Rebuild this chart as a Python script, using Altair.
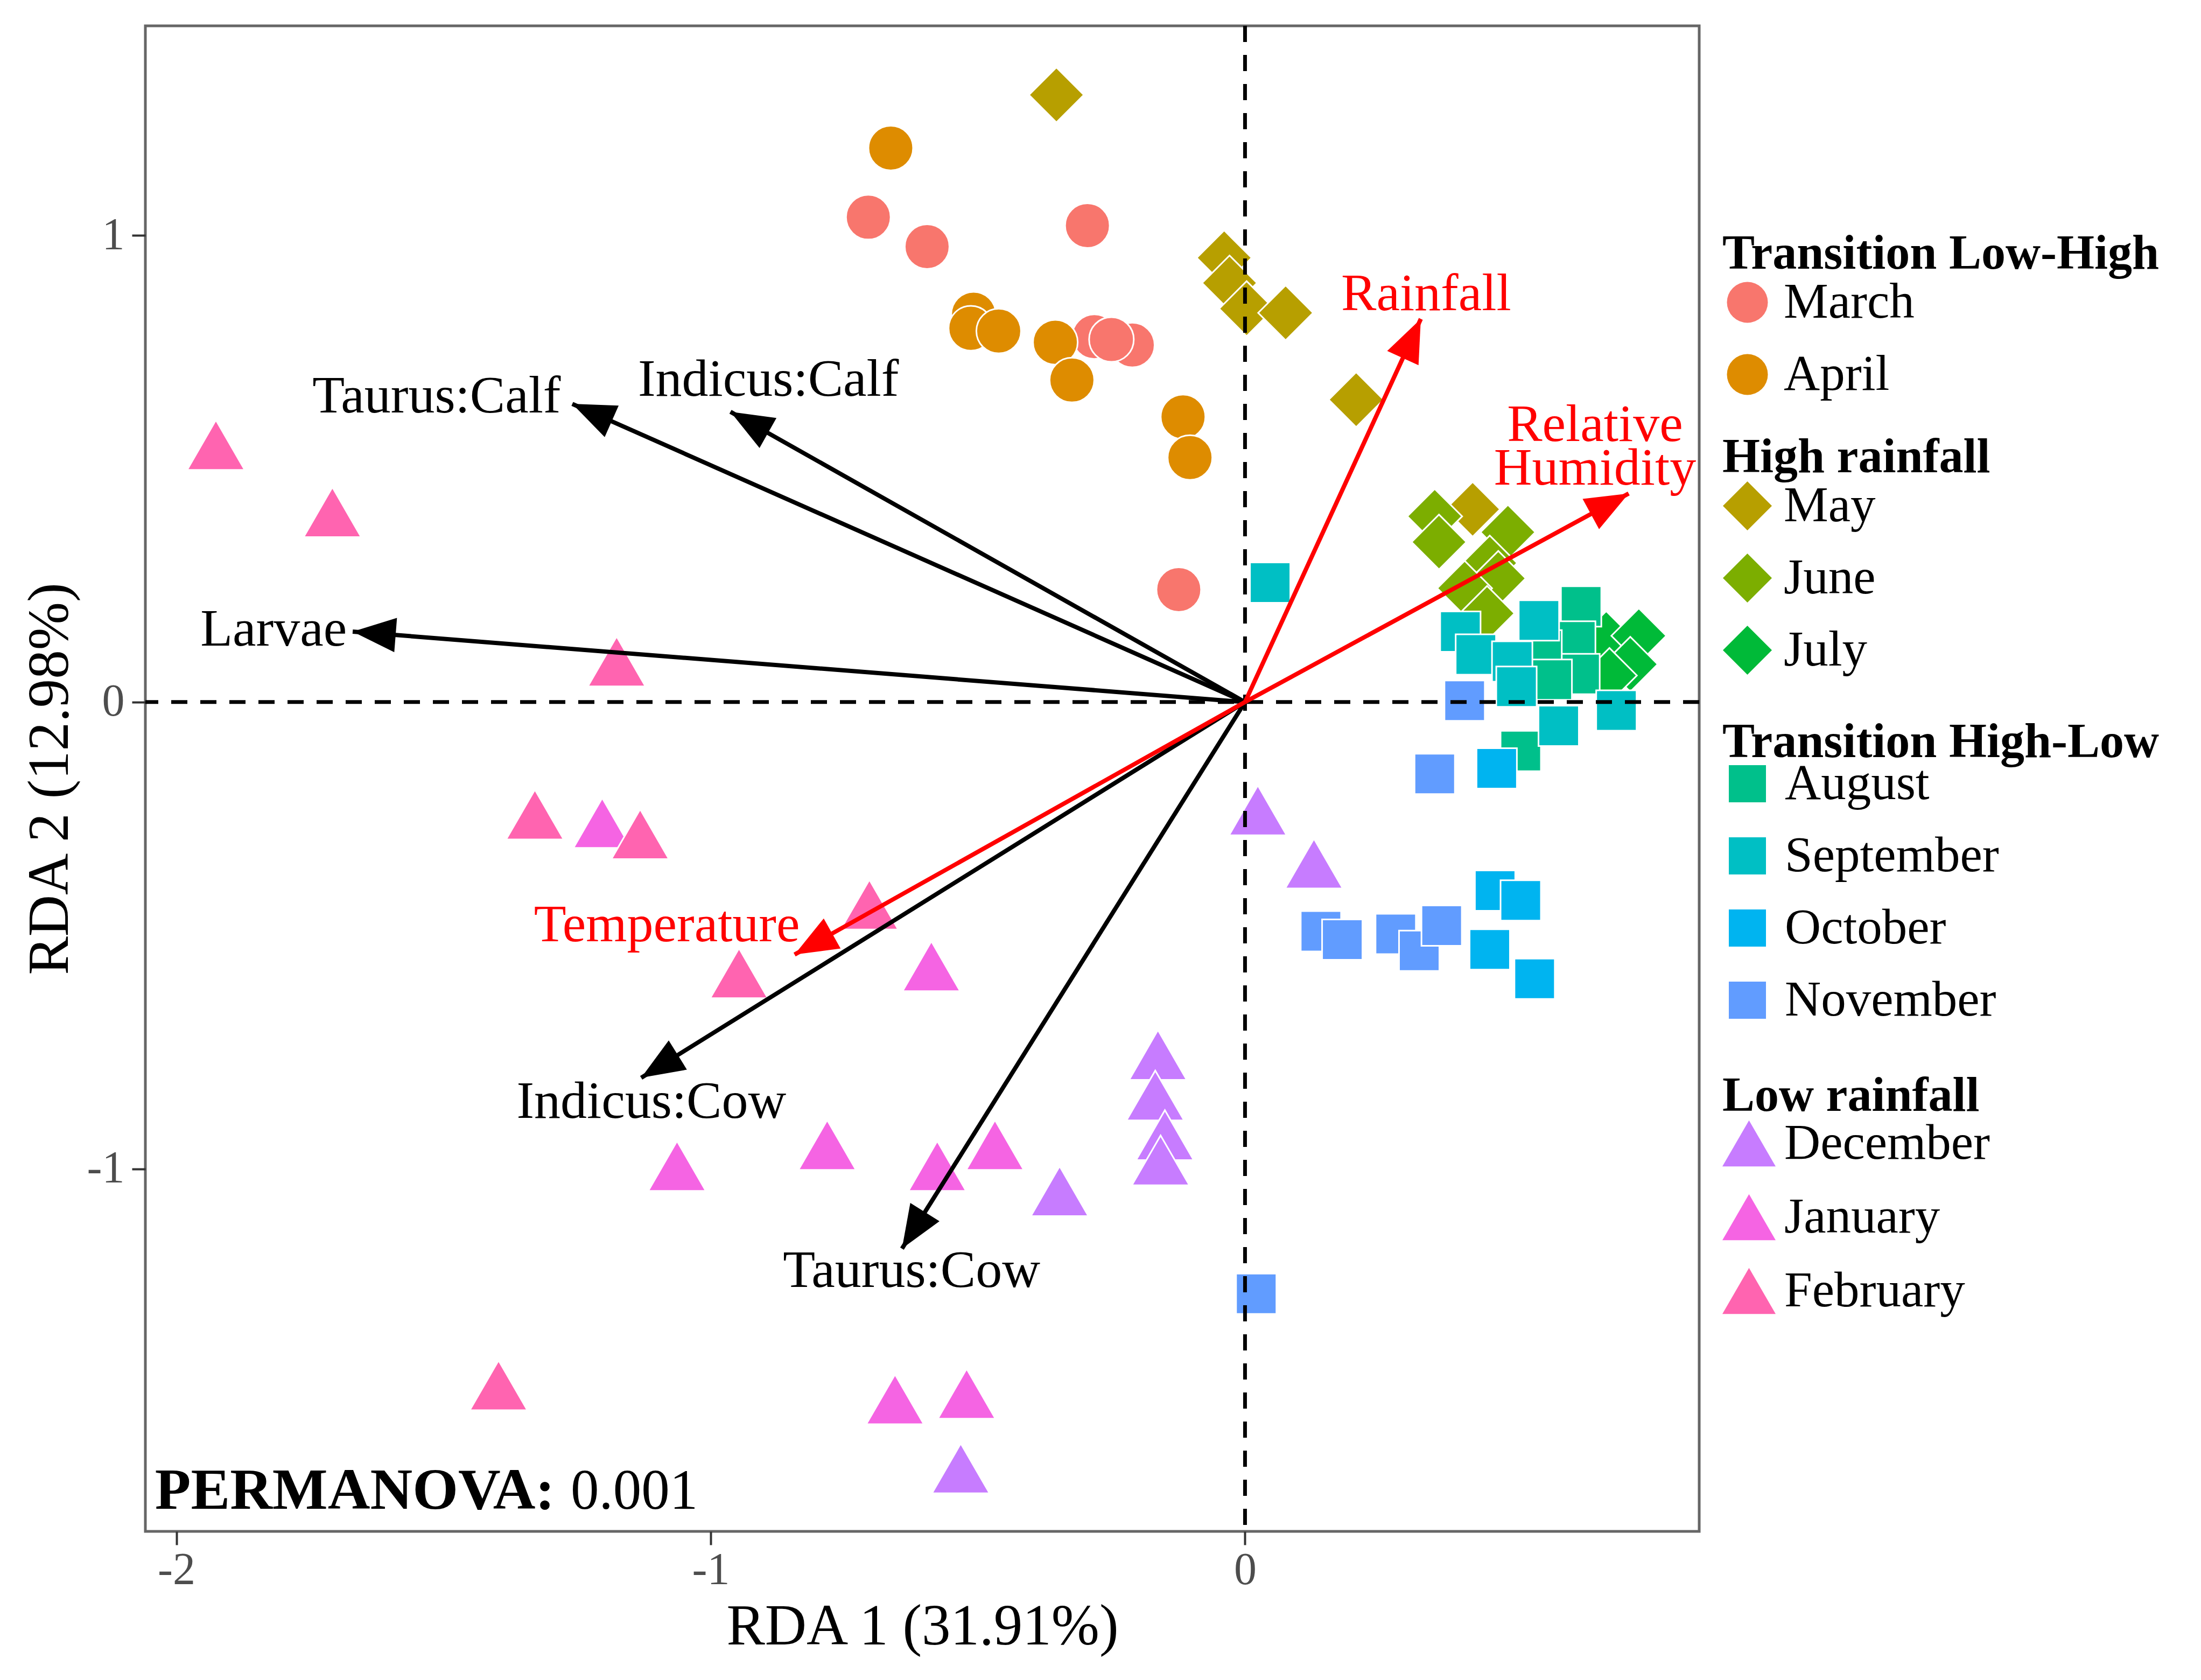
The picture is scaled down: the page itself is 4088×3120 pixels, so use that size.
import math
import altair as alt
import pandas as pd

# ---------------- data ----------------
MONTHS = ["March", "April", "May", "June", "July", "August", "September",
          "October", "November", "December", "January", "February"]
COLORS = ["#F8766D", "#DE8C00", "#B79F00", "#7CAE00", "#00BA38", "#00C08B",
          "#00BFC4", "#00B4F0", "#619CFF", "#C77CFF", "#F564E3", "#FF64B0"]

march_rda1 = [-0.705, -0.595, -0.295, -0.124, -0.282, -0.211, -0.250]
march_rda2 = [1.039, 0.976, 1.021, 0.241, 0.783, 0.765, 0.777]
april_rda1 = [-0.663, -0.508, -0.513, -0.461, -0.355, -0.324, -0.116, -0.103]
april_rda2 = [1.187, 0.831, 0.801, 0.795, 0.771, 0.690, 0.611, 0.524]
may_rda1 = [-0.353, -0.039, -0.029, 0.003, 0.076, 0.208, 0.426]
may_rda2 = [1.301, 0.952, 0.898, 0.843, 0.834, 0.648, 0.413]
june_rda1 = [0.355, 0.363, 0.492, 0.458, 0.474, 0.411, 0.453]
june_rda2 = [0.398, 0.343, 0.364, 0.298, 0.265, 0.244, 0.190]
july_rda1 = [0.676, 0.737, 0.721, 0.682]
july_rda2 = [0.136, 0.142, 0.081, 0.057]
august_rda1 = [0.629, 0.618, 0.626, 0.555, 0.574, 0.516]
august_rda2 = [0.205, 0.130, 0.060, 0.111, 0.048, -0.105]
september_rda1 = [0.047, 0.403, 0.432, 0.550, 0.500, 0.508, 0.587, 0.695]
september_rda2 = [0.256, 0.151, 0.102, 0.175, 0.087, 0.033, -0.051, -0.018]
october_rda1 = [0.471, 0.468, 0.516, 0.458, 0.542]
october_rda2 = [-0.142, -0.404, -0.425, -0.530, -0.593]
november_rda1 = [0.411, 0.355, 0.142, 0.182, 0.282, 0.326, 0.368, 0.021]
november_rda2 = [0.003, -0.154, -0.491, -0.509, -0.497, -0.533, -0.479, -1.268]
december_rda1 = [0.024, 0.129, -0.163, -0.168, -0.150, -0.158, -0.347, -0.532]
december_rda2 = [-0.232, -0.346, -0.756, -0.843, -0.928, -0.982, -1.048, -1.642]
january_rda1 = [-1.203, -0.587, -1.063, -0.782, -0.576, -0.468, -0.655, -0.521]
january_rda2 = [-0.259, -0.566, -0.994, -0.949, -0.994, -0.949, -1.494, -1.482]
february_rda1 = [-1.926, -1.708, -1.176, -1.329, -1.132, -0.703, -0.947, -1.397]
february_rda2 = [0.551, 0.407, 0.087, -0.241, -0.283, -0.434, -0.581, -1.464]

MONTH_DATA = {
    "March": (march_rda1, march_rda2), "April": (april_rda1, april_rda2),
    "May": (may_rda1, may_rda2), "June": (june_rda1, june_rda2),
    "July": (july_rda1, july_rda2), "August": (august_rda1, august_rda2),
    "September": (september_rda1, september_rda2),
    "October": (october_rda1, october_rda2),
    "November": (november_rda1, november_rda2),
    "December": (december_rda1, december_rda2),
    "January": (january_rda1, january_rda2),
    "February": (february_rda1, february_rda2),
}

GROUP_TITLES = ["Transition Low-High", "High rainfall", "Transition High-Low", "Low rainfall"]
GROUP_MONTHS = [["March", "April"], ["May", "June", "July"],
                ["August", "September", "October", "November"],
                ["December", "January", "February"]]
GROUP_SHAPES = ["circle", "diamond", "square", "triangle-up"]

species_names = ["Taurus:Calf", "Indicus:Calf", "Larvae", "Indicus:Cow", "Taurus:Cow"]
species_rda1 = [-1.259, -0.963, -1.670, -1.130, -0.642]
species_rda2 = [0.639, 0.622, 0.151, -0.805, -1.171]
species_label_rda1 = [-1.513, -0.892, -1.818, -1.111, -0.624]
species_label_rda2 = [0.654, 0.690, 0.154, -0.858, -1.220]

env_names = ["Rainfall", "Relative Humidity", "Temperature"]
env_rda1 = [0.329, 0.718, -0.843]
env_rda2 = [0.821, 0.447, -0.541]
env_label_text = ["Rainfall", "Relative", "Humidity", "Temperature"]
env_label_rda1 = [0.339, 0.655, 0.655, -1.082]
env_label_rda2 = [0.873, 0.593, 0.500, -0.479]

permanova_parts = ["PERMANOVA:", "0.001"]
permanova_rda1 = [-2.040, -1.262]
permanova_rda2 = [-1.728, -1.728]

x_ticks = [-2, -1, 0]
y_ticks = [-1, 0, 1]

# ---------------- layout / style ----------------
X_DOMAIN = [-2.058, 0.850]
Y_DOMAIN = [-1.777, 1.449]
W, H = 2886, 2796
FONT = "Liberation Serif"

POINT_SIZE = {"circle": 6889, "diamond": 10404, "square": 5625, "triangle-up": 11449}
LEGEND_DIAM = {"circle": 76, "diamond": 91, "square": 69, "triangle-up": 99}
LEGEND_LABEL_X = {"circle": 97, "diamond": 112, "square": 92, "triangle-up": 115}
LEGEND_TITLE_PAD = [-3, -3, -16, -8]
LEGEND_Y = [380, 758, 1287, 1944]
LEGEND_X = 2929

xscale = alt.Scale(domain=X_DOMAIN, nice=False, zero=False)
yscale = alt.Scale(domain=Y_DOMAIN, nice=False, zero=False)
label_expr = "datum.value < 0 ? '-' + abs(datum.value) : '' + datum.value"
xaxis = alt.Axis(title="RDA 1 (31.91%)", values=x_ticks, grid=False, domain=False,
                 tickSize=25, tickWidth=4, tickColor="#333333",
                 labelFont=FONT, labelFontSize=84, labelColor="#4D4D4D",
                 labelPadding=6, labelExpr=label_expr,
                 titleFont=FONT, titleFontSize=107, titleFontWeight="normal",
                 titleColor="black", titlePadding=10)
yaxis = alt.Axis(title="RDA 2 (12.98%)", values=y_ticks, grid=False, domain=False,
                 tickSize=25, tickWidth=4, tickColor="#333333",
                 labelFont=FONT, labelFontSize=84, labelColor="#4D4D4D",
                 labelPadding=14, labelExpr=label_expr,
                 titleFont=FONT, titleFontSize=107, titleFontWeight="normal",
                 titleColor="black", titlePadding=14)

X = alt.X("RDA1:Q", scale=xscale, axis=xaxis)
Y = alt.Y("RDA2:Q", scale=yscale, axis=yaxis)

# ---------------- point layers ----------------
layers = []
for gi, (title, mlist, shape) in enumerate(zip(GROUP_TITLES, GROUP_MONTHS, GROUP_SHAPES)):
    rows = []
    for m in mlist:
        xs, ys = MONTH_DATA[m]
        for a, b in zip(xs, ys):
            rows.append({"RDA1": a, "RDA2": b, "month": m})
    df = pd.DataFrame(rows)
    cols = [COLORS[MONTHS.index(m)] for m in mlist]
    d = LEGEND_DIAM[shape]
    leg = alt.Legend(title=title, orient="none", legendX=LEGEND_X, legendY=LEGEND_Y[gi],
                     symbolType=shape, symbolSize=d * d,
                     labelOffset=LEGEND_LABEL_X[shape] - d,
                     titlePadding=LEGEND_TITLE_PAD[gi], symbolStrokeWidth=0)
    layer = alt.Chart(df).mark_point(
        filled=True, shape=shape, size=POINT_SIZE[shape], opacity=1,
        stroke="white", strokeWidth=3
    ).encode(
        x=X, y=Y,
        color=alt.Color("month:N", scale=alt.Scale(domain=mlist, range=cols), legend=leg),
    )
    layers.append(layer)

# ---------------- reference dashed lines ----------------
vline = alt.Chart(pd.DataFrame({"RDA1": [0]})).mark_rule(
    color="black", strokeWidth=7, strokeDash=[30, 24]).encode(x=X)
hline = alt.Chart(pd.DataFrame({"RDA2": [0]})).mark_rule(
    color="black", strokeWidth=7, strokeDash=[30, 24]).encode(y=Y)

# ---------------- arrows ----------------
kx = W / (X_DOMAIN[1] - X_DOMAIN[0])
ky = H / (Y_DOMAIN[1] - Y_DOMAIN[0])


def arrow_df(names, xs, ys, col):
    rows = []
    for n, a, b in zip(names, xs, ys):
        ang = (math.degrees(math.atan2(a * kx, b * ky)) + 360) % 360
        rows.append({"name": n, "RDA1": a, "RDA2": b, "x0": 0.0, "y0": 0.0,
                     "angle": ang, "col": col})
    return rows


arrows = pd.DataFrame(arrow_df(species_names, species_rda1, species_rda2, "black")
                      + arrow_df(env_names, env_rda1, env_rda2, "#FF0000"))

arrow_lines = alt.Chart(arrows).mark_rule(strokeWidth=8).encode(
    x=X, y=Y, x2="x0:Q", y2="y0:Q",
    color=alt.Color("col:N", scale=None))
arrow_heads = alt.Chart(arrows).mark_point(
    shape="M0,0L-0.8,2L0.8,2Z", filled=True, size=6400, opacity=1, strokeWidth=0
).encode(x=X, y=Y, angle=alt.Angle("angle:Q", scale=None),
         color=alt.Color("col:N", scale=None))

# ---------------- labels ----------------
labels = pd.DataFrame(
    [{"text": t, "RDA1": a, "RDA2": b, "col": "black"}
     for t, a, b in zip(species_names, species_label_rda1, species_label_rda2)]
    + [{"text": t, "RDA1": a, "RDA2": b, "col": "#FF0000"}
       for t, a, b in zip(env_label_text, env_label_rda1, env_label_rda2)])
label_layer = alt.Chart(labels).mark_text(
    font=FONT, fontSize=98, align="center", baseline="middle").encode(
    x=X, y=Y, text="text:N", color=alt.Color("col:N", scale=None))

perm = pd.DataFrame({"text": permanova_parts, "RDA1": permanova_rda1,
                     "RDA2": permanova_rda2})
perm_bold = alt.Chart(perm.iloc[[0]]).mark_text(
    font=FONT, fontSize=109, fontWeight="bold", align="left",
    baseline="alphabetic", color="black").encode(x=X, y=Y, text="text:N")
perm_val = alt.Chart(perm.iloc[[1]]).mark_text(
    font=FONT, fontSize=105, align="left", baseline="alphabetic",
    color="black").encode(x=X, y=Y, text="text:N")

chart = alt.layer(
    *layers, vline, hline, arrow_lines, arrow_heads, label_layer, perm_bold, perm_val
).resolve_scale(
    color="independent"
).properties(
    width=W, height=H,
    padding={"left": 31, "top": 36, "right": 0, "bottom": 30},
    background="white",
).configure_view(
    stroke="#666666", strokeWidth=5
).configure_legend(
    labelFont=FONT, labelFontSize=93, labelColor="black", labelLimit=0,
    titleFont=FONT, titleFontSize=90, titleFontWeight="bold", titleColor="black",
    titleLimit=0, rowPadding=40, padding=0,
)

chart.save("out.html", embed_options={"renderer": "svg", "actions": False})
